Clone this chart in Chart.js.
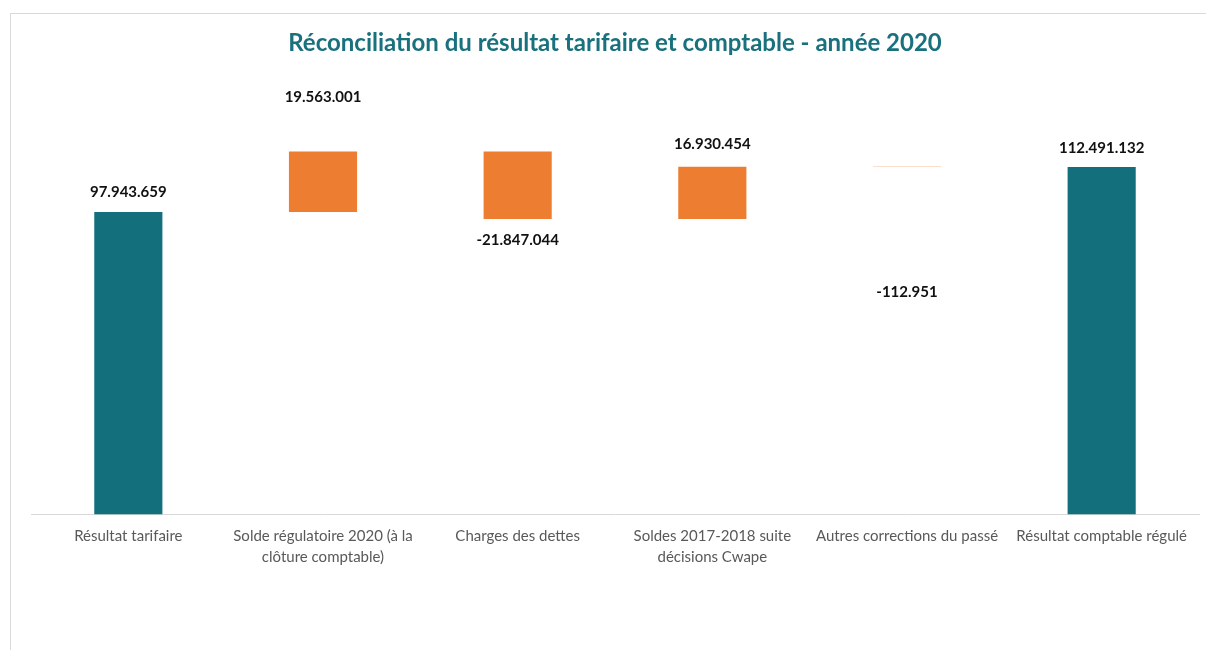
<!DOCTYPE html>
<html lang="fr">
<head>
<meta charset="utf-8">
<title>Réconciliation du résultat tarifaire et comptable - année 2020</title>
<script src="https://cdn.jsdelivr.net/npm/chart.js@4.4.1/dist/chart.umd.min.js"></script>
<style>
  html, body { margin: 0; padding: 0; background: #fff; overflow: hidden; }
  #frame { position: absolute; left: 10px; top: 13px; width: 1400px; height: 800px; border: 1px solid #d9d9d9; }
  #wrap { position: absolute; left: 0; top: 0; width: 1206px; height: 650px; }
</style>
</head>
<body>
<div id="frame"></div>
<div id="wrap"><canvas id="waterfall"></canvas></div>
<script>
// categories of the waterfall
var categories = [
  "Résultat tarifaire",
  ["Solde régulatoire 2020 (à la", "clôture comptable)"],
  "Charges des dettes",
  ["Soldes 2017-2018 suite", "décisions Cwape"],
  "Autres corrections du passé",
  "Résultat comptable régulé"
];

// amounts in EUR: first and last are totals, the others are movements
var amounts = [97943659, 19563001, -21847044, 16930454, -112951, 112491132];
var isTotal = [true, false, false, false, false, true];

var TEAL = "#136f7c";
var ORANGE = "#ed7d31";

// build floating [from, to] ranges for each bar
var ranges = [];
var running = 0;
for (var i = 0; i < amounts.length; i++) {
  if (isTotal[i]) {
    ranges.push([0, amounts[i]]);
    running = amounts[i];
  } else {
    ranges.push([running, running + amounts[i]]);
    running += amounts[i];
  }
}

function fmt(n) {
  var s = Math.abs(n).toString().replace(/\B(?=(\d{3})+(?!\d))/g, ".");
  return (n < 0 ? "-" : "") + s;
}

// value labels above positive moves, below negative ones
var valueLabels = {
  id: "valueLabels",
  afterDatasetsDraw: function (chart, args, opts) {
    var ctx = chart.ctx;
    var meta = chart.getDatasetMeta(0);
    var y = chart.scales.y;
    ctx.save();
    ctx.font = "bold 15px Lato";
    ctx.fillStyle = "#111";
    ctx.textAlign = "center";
    ctx.textBaseline = "middle";
    meta.data.forEach(function (bar, i) {
      var r = ranges[i];
      var off = opts.offsets[i];
      var py;
      if (amounts[i] >= 0) {
        py = y.getPixelForValue(Math.max(r[0], r[1])) - off;
      } else {
        py = y.getPixelForValue(Math.min(r[0], r[1])) + off;
      }
      ctx.fillText(fmt(amounts[i]), bar.x, py);
    });
    ctx.restore();
  }
};

var ctx = document.getElementById("waterfall");
var chart = new Chart(ctx, {
  type: "bar",
  data: {
    labels: categories,
    datasets: [{
      data: ranges,
      backgroundColor: isTotal.map(function (t) { return t ? TEAL : ORANGE; }),
      borderWidth: 0,
      barPercentage: 1,
      categoryPercentage: 0.35
    }]
  },
  options: {
    responsive: false,
    animation: false,
    devicePixelRatio: 1,
    layout: { padding: { left: 31, right: 7, top: 0, bottom: 24 } },
    plugins: {
      legend: { display: false },
      tooltip: { enabled: false },
      title: {
        display: true,
        text: "Réconciliation du résultat tarifaire et comptable - année 2020",
        color: "#19717e",
        font: { family: "Lato", size: 24, weight: "bold", lineHeight: 1.2 },
        padding: { top: 29, bottom: 24.2 }
      },
      valueLabels: { offsets: [20, 54, 21, 23, 125, 19] }
    },
    scales: {
      x: {
        grid: { display: false, drawTicks: false },
        border: { display: true, color: "#d9d9d9", width: 1 },
        ticks: {
          color: "#595959",
          font: { family: "Lato", size: 15, lineHeight: 1.35 },
          padding: 12,
          maxRotation: 0,
          autoSkip: false
        }
      },
      y: {
        display: false,
        min: 0,
        max: 140000000
      }
    }
  },
  plugins: [valueLabels]
});
chart.resize(1206, 650);
</script>
</body>
</html>
